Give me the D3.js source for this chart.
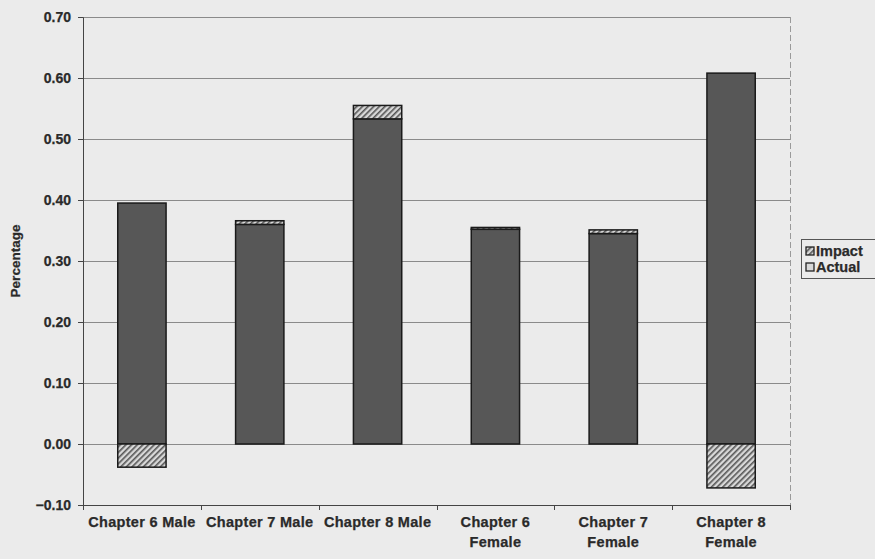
<!DOCTYPE html>
<html>
<head>
<meta charset="utf-8">
<script src="https://cdn.jsdelivr.net/npm/d3@7"></script>
<style>
  html, body { margin: 0; padding: 0; background: #ebebeb; }
  svg { display: block; }
  text { font-family: "Liberation Sans", Arial, sans-serif; font-weight: bold; fill: #2a2a2a; stroke: #2a2a2a; stroke-width: 0.25px; }
</style>
</head>
<body>
<svg id="chart" width="875" height="559"></svg>
<script>
const categories = ["Chapter 6 Male", "Chapter 7 Male", "Chapter 8 Male", "Chapter 6 Female", "Chapter 7 Female", "Chapter 8 Female"];
const actualValues = [0.395, 0.360, 0.533, 0.352, 0.345, 0.608];
const impactValues = [-0.038, 0.006, 0.022, 0.003, 0.006, -0.072];
const yTicks = [-0.10, 0.00, 0.10, 0.20, 0.30, 0.40, 0.50, 0.60, 0.70];
const seriesNames = ["Impact", "Actual"];

const svg = d3.select("#chart");
const margin = { left: 83, right: 85, top: 17, bottom: 54 };
const W = 875, H = 559;
const pw = W - margin.left - margin.right;
const ph = H - margin.top - margin.bottom;

const defs = svg.append("defs");
const pat = defs.append("pattern").attr("id", "hatch").attr("patternUnits", "userSpaceOnUse")
  .attr("width", 4).attr("height", 4).attr("patternTransform", "rotate(45)");
pat.append("rect").attr("width", 4).attr("height", 4).attr("fill", "#d8d8d8");
pat.append("rect").attr("width", 1.6).attr("height", 4).attr("fill", "#555");

const g = svg.append("g").attr("transform", `translate(${margin.left},${margin.top})`);

const x = d3.scaleBand().domain(categories).range([0, pw]).paddingInner(0.59).paddingOuter(0.295);
const xOuter = d3.scaleBand().domain(categories).range([0, pw]);
const y = d3.scaleLinear().domain([-0.10, 0.70]).range([ph, 0]);

// gridlines
g.append("g").selectAll("line").data(yTicks).join("line")
  .attr("x1", 0).attr("x2", pw)
  .attr("y1", d => Math.round(y(d)) + 0.5).attr("y2", d => Math.round(y(d)) + 0.5)
  .attr("stroke", "#8a8a8a").attr("stroke-width", 1);

// right border (faint)
g.append("line").attr("x1", pw + 0.5).attr("x2", pw + 0.5).attr("y1", 0).attr("y2", ph)
  .attr("stroke", "#9a9a9a").attr("stroke-dasharray", "6,3");

// actual bars
g.append("g").selectAll("rect").data(categories).join("rect")
  .attr("x", d => x(d))
  .attr("width", x.bandwidth())
  .attr("y", (d, i) => y(actualValues[i]))
  .attr("height", (d, i) => y(0) - y(actualValues[i]))
  .attr("fill", "#575757").attr("stroke", "#1a1a1a").attr("stroke-width", 1.5);

// impact bars
g.append("g").selectAll("rect").data(categories).join("rect")
  .attr("x", d => x(d))
  .attr("width", x.bandwidth())
  .attr("y", (d, i) => impactValues[i] >= 0 ? y(actualValues[i] + impactValues[i]) : y(0))
  .attr("height", (d, i) => Math.abs(y(0) - y(impactValues[i])))
  .attr("fill", "url(#hatch)").attr("stroke", "#1a1a1a").attr("stroke-width", 1.5);

// y axis
const yAxis = d3.axisLeft(y).tickValues(yTicks).tickFormat(d3.format(".2f")).tickSize(5).tickPadding(7);
const ya = g.append("g").call(yAxis);
ya.select(".domain").attr("stroke", "#444");
ya.selectAll(".tick line").attr("stroke", "#444");
ya.selectAll(".tick text").style("font-size", "14px").style("font-family", "'Liberation Sans', Arial, sans-serif").style("font-weight", "bold").attr("fill", "#2a2a2a");

// x axis
const xa = g.append("g").attr("transform", `translate(0,${ph})`);
xa.append("line").attr("x1", 0).attr("x2", pw).attr("y1", 0.5).attr("y2", 0.5).attr("stroke", "#444");
const bounds = categories.map(c => xOuter(c)).concat([pw]);
xa.selectAll("line.tk").data(bounds).join("line").attr("class", "tk")
  .attr("x1", d => Math.round(d) + 0.5).attr("x2", d => Math.round(d) + 0.5)
  .attr("y1", 0).attr("y2", 5).attr("stroke", "#444");

const wrap = c => {
  if (c.endsWith("Female")) return [c.replace(" Female", ""), "Female"];
  return [c];
};
xa.selectAll("text.lbl").data(categories).join("text").attr("class", "lbl")
  .attr("text-anchor", "middle")
  .style("font-size", "14.5px")
  .style("letter-spacing", "0.3px")
  .attr("transform", d => `translate(${xOuter(d) + xOuter.bandwidth() / 2},22)`)
  .each(function (d) {
    const t = d3.select(this);
    wrap(d).forEach((line, i) => {
      t.append("tspan").attr("x", 0).attr("dy", i === 0 ? 0 : 20).text(line);
    });
  });

// y title
svg.append("text")
  .attr("transform", `translate(20,${margin.top + y(0.30)}) rotate(-90)`)
  .attr("text-anchor", "middle")
  .style("font-size", "13.5px")
  .text("Percentage");

// legend
const lg = svg.append("g").attr("transform", "translate(801,239)");
lg.append("rect").attr("x", 0.5).attr("y", 0.5).attr("width", 80).attr("height", 39)
  .attr("fill", "#ebebeb").attr("stroke", "#555");
const fills = ["url(#hatch)", "#d8d8d8"];
seriesNames.forEach((s, i) => {
  lg.append("rect").attr("x", 5).attr("y", 8 + i * 16).attr("width", 8).attr("height", 8)
    .attr("fill", fills[i]).attr("stroke", "#222").attr("stroke-width", 1.3);
  lg.append("text").attr("x", 15).attr("y", 17 + i * 16).style("font-size", "14.5px").text(s);
});
</script>
</body>
</html>
